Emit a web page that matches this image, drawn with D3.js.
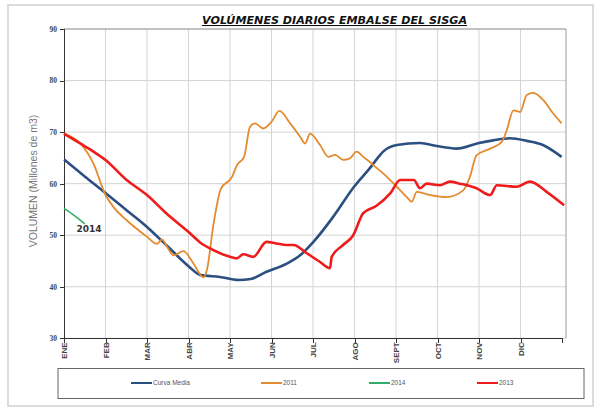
<!DOCTYPE html>
<html>
<head>
    <title>Volúmenes diarios embalse del Sisga</title>
    <style>
        body { margin: 0; background: #fff; }
        .grid line { stroke: #d4d4d4; stroke-width: 1; }
        .axis path, .axis line { stroke: #333; shape-rendering: crispEdges; }
        .ytick text { font-family: "Liberation Serif", serif; font-weight: bold; font-size: 7.5px; fill: #444; }
        .xtick text { font-family: "Liberation Sans Narrow", "Liberation Sans", Arial, sans-serif; font-weight: bold; font-size: 8px; fill: #444; }
        .legend text { font-family: "Liberation Sans", Arial, sans-serif; font-size: 6.5px; fill: #555; }
    </style>
</head>
<body>
    <div id="chart"></div>

    <script src="https://d3js.org/d3.v7.min.js"></script>
    <script>
        // month labels and y ticks
        const months = ["ENE", "FEB", "MAR", "ABR", "MAY", "JUN", "JUL", "AGO", "SEPT", "OCT", "NOV", "DIC"];
        const yTicks = [30, 40, 50, 60, 70, 80, 90];

        // x = months since 1 Jan, y = volume (millions m3)
        const mediaX = [0, 0.5, 1, 1.5, 2, 2.5, 3, 3.28, 3.76, 4.2, 4.5, 4.88, 5.37, 5.69, 6.01, 6.49, 6.98, 7.37, 7.61, 7.69, 8.02, 8.58, 8.98, 9.46, 10.0, 10.34, 10.75, 11.15, 11.54, 11.99];
        const mediaY = [64.7, 61.4, 58.2, 54.9, 51.6, 47.8, 44.0, 42.3, 41.9, 41.3, 41.5, 42.9, 44.5, 46.1, 48.7, 53.6, 59.3, 63.0, 65.5, 66.2, 67.5, 67.9, 67.3, 66.8, 67.9, 68.4, 68.8, 68.3, 67.5, 65.2];

        const y2011X = [0, 0.39, 0.71, 1.0, 1.19, 1.51, 2.0, 2.24, 2.36, 2.48, 2.64, 2.88, 3.12, 3.36, 3.45, 3.6, 3.78, 4.05, 4.17, 4.34, 4.48, 4.6, 4.8, 5.0, 5.19, 5.45, 5.69, 5.81, 5.93, 6.17, 6.37, 6.53, 6.73, 6.89, 7.05, 7.21, 7.37, 7.45, 7.69, 8.02, 8.26, 8.38, 8.5, 8.82, 9.22, 9.62, 9.78, 9.94, 10.27, 10.55, 10.67, 10.83, 10.99, 11.15, 11.31, 11.55, 11.79, 11.99];
        const y2011Y = [69.7, 67.8, 63.9, 57.8, 55.5, 52.9, 49.7, 48.3, 49.2, 47.8, 46.1, 46.9, 44.5, 41.8, 43.5, 52.0, 59.0, 61.3, 63.6, 65.2, 71.0, 71.7, 70.7, 72.0, 74.1, 71.7, 69.1, 67.8, 69.7, 67.5, 65.2, 65.6, 64.6, 64.9, 66.2, 65.2, 64.2, 63.6, 62.0, 59.4, 57.4, 56.5, 58.4, 57.8, 57.4, 58.7, 61.3, 65.5, 66.8, 68.1, 70.4, 74.2, 73.9, 77.2, 77.6, 76.2, 73.6, 71.7];

        const y2014X = [0, 0.25, 0.5];
        const y2014Y = [55.2, 53.8, 52.2];

        const y2013X = [0, 0.39, 0.71, 1.0, 1.51, 2.0, 2.47, 2.99, 3.28, 3.6, 4.0, 4.16, 4.32, 4.56, 4.88, 5.12, 5.36, 5.53, 5.85, 6.17, 6.41, 6.45, 6.71, 6.97, 7.21, 7.53, 7.86, 8.1, 8.43, 8.58, 8.74, 9.06, 9.3, 9.54, 9.94, 10.27, 10.43, 10.91, 11.23, 11.63, 12.05];
        const y2013Y = [69.7, 67.8, 66.2, 64.6, 60.7, 57.8, 54.2, 50.7, 48.6, 47.1, 45.8, 45.5, 46.3, 45.8, 48.7, 48.4, 48.1, 48.1, 46.5, 44.8, 43.6, 45.8, 48.0, 50.0, 54.3, 55.7, 58.1, 60.7, 60.7, 59.1, 60.0, 59.7, 60.4, 60.0, 59.1, 57.8, 59.7, 59.4, 60.4, 58.4, 55.8];

        const series = [
            { name: "Curva Media", xs: mediaX, ys: mediaY, color: "#2b4f80", width: 2.6 },
            { name: "2011", xs: y2011X, ys: y2011Y, color: "#e38b2f", width: 1.8 },
            { name: "2014", xs: y2014X, ys: y2014Y, color: "#2fae68", width: 1.6 },
            { name: "2013", xs: y2013X, ys: y2013Y, color: "#ee1c1c", width: 2.6 }
        ];

        const svg = d3.select("#chart").append("svg")
            .attr("width", 603)
            .attr("height", 412);

        // outer frame
        svg.append("rect")
            .attr("x", 8).attr("y", 5)
            .attr("width", 585).attr("height", 401)
            .attr("fill", "#fff")
            .attr("stroke", "#dcdcdc")
            .attr("stroke-width", 2);

        const xScale = d3.scaleLinear().domain([0, 12]).range([64, 562]);
        const yScale = d3.scaleLinear().domain([30, 90]).range([338.3, 29]);

        // grid
        const grid = svg.append("g").attr("class", "grid");
        grid.selectAll(".h").data(yTicks).enter().append("line")
            .attr("x1", 64).attr("x2", 566)
            .attr("y1", d => yScale(d)).attr("y2", d => yScale(d));
        grid.selectAll(".v").data(d3.range(1, 12)).enter().append("line")
            .attr("x1", d => xScale(d)).attr("x2", d => xScale(d))
            .attr("y1", 29).attr("y2", 338.3);
        // right + top border of plot
        svg.append("path")
            .attr("d", `M64,29H566V338.3`)
            .attr("fill", "none")
            .attr("stroke", "#9a9a9a")
            .attr("stroke-width", 1);

        // y axis
        const yAxis = d3.axisLeft(yScale).tickValues(yTicks).tickSize(4).tickPadding(3);
        svg.append("g")
            .attr("class", "axis ytick")
            .attr("transform", "translate(64,0)")
            .call(yAxis)
            .call(g => g.select(".domain").attr("d", "M0,29V338.3"));

        // x axis
        const xAxis = d3.axisBottom(xScale).tickValues(d3.range(0, 13)).tickSize(5).tickFormat(d => months[d] || "");
        svg.append("g")
            .attr("class", "axis xtick")
            .attr("transform", "translate(0,338.3)")
            .call(xAxis)
            .selectAll("text")
            .attr("transform", "rotate(-90)")
            .attr("x", -4)
            .attr("y", 0)
            .attr("dy", "0.35em")
            .style("text-anchor", "end");

        // lines
        const line = d3.line()
            .curve(d3.curveMonotoneX)
            .x(d => xScale(d[0]))
            .y(d => yScale(d[1]));

        series.forEach(s => {
            svg.append("path")
                .datum(s.xs.map((x, i) => [x, s.ys[i]]))
                .attr("d", line)
                .attr("fill", "none")
                .attr("stroke", s.color)
                .attr("stroke-width", s.width)
                .attr("stroke-linejoin", "round");
        });

        // 2014 label
        svg.append("text")
            .attr("x", xScale(0.3))
            .attr("y", yScale(50.6))
            .style("font-family", "'DejaVu Sans', sans-serif")
            .style("font-weight", "bold")
            .style("font-size", "9px")
            .style("fill", "#333")
            .text("2014");

        // title
        svg.append("text")
            .attr("x", 202)
            .attr("y", 24)
            .attr("textLength", 265)
            .attr("lengthAdjust", "spacingAndGlyphs")
            .style("font-family", "'DejaVu Sans', Verdana, sans-serif")
            .style("font-weight", "bold")
            .style("font-style", "italic")
            .style("font-size", "10.5px")
            .style("fill", "#111")
            .style("text-decoration", "underline")
            .text("VOLÚMENES DIARIOS EMBALSE DEL SISGA");

        // y label
        svg.append("text")
            .attr("transform", "translate(37,181) rotate(-90)")
            .attr("text-anchor", "middle")
            .style("font-family", "'Liberation Sans', Arial, sans-serif")
            .style("font-size", "10.5px")
            .style("fill", "#777")
            .text("VOLUMEN (Millones de m3)");

        // legend
        const legend = svg.append("g").attr("class", "legend");
        legend.append("rect")
            .attr("x", 58).attr("y", 368.5)
            .attr("width", 526).attr("height", 30)
            .attr("fill", "#fff")
            .attr("stroke", "#666")
            .attr("stroke-width", 1);
        const legendX = [131, 261, 369, 477];
        series.forEach((s, i) => {
            legend.append("line")
                .attr("x1", legendX[i]).attr("x2", legendX[i] + 21)
                .attr("y1", 383).attr("y2", 383)
                .attr("stroke", s.color)
                .attr("stroke-width", 2);
            legend.append("text")
                .attr("x", legendX[i] + 22)
                .attr("y", 385.3)
                .text(s.name);
        });
    </script>
</body>
</html>
